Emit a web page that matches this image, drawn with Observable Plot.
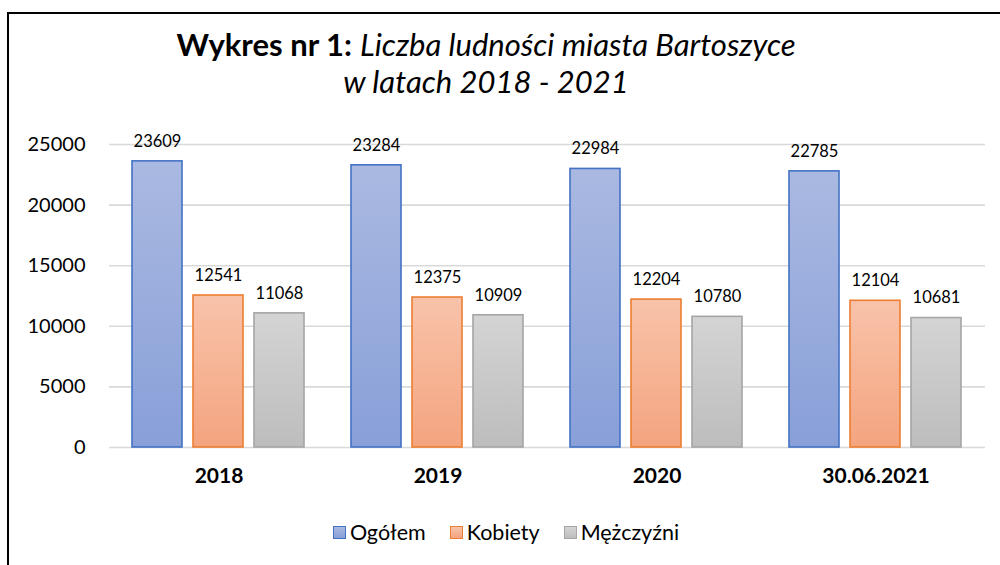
<!DOCTYPE html>
<html>
<head>
<meta charset="utf-8">
<script src="https://cdn.jsdelivr.net/npm/d3@7"></script>
<script src="https://cdn.jsdelivr.net/npm/@observablehq/plot@0.6"></script>
<style>
  html, body { margin: 0; padding: 0; background: #fff; }
  #wrap { position: relative; width: 1000px; height: 565px; overflow: hidden; font-family: Lato, "Open Sans", sans-serif; color: #000; }
  #frame { position: absolute; left: 7px; top: 12px; right: -10px; bottom: -10px; border-left: 2.5px solid #000; border-top: 2.5px solid #000; }
  #title { position: absolute; left: 0; top: 26px; width: 972px; text-align: center; font-size: 31px; line-height: 37px; }
  #title b { font-weight: bold; }
  #title i { font-style: italic; }
  #chart { position: absolute; left: 0; top: 120px; }
  #legend { position: absolute; left: 0; top: 519px; width: 1000px; display: flex; justify-content: center; gap: 24px; font-size: 21.5px; padding-left: 12px; box-sizing: border-box; }
  .item { display: flex; align-items: center; gap: 4px; }
  .sw { width: 11px; height: 11px; border-width: 1.5px; border-style: solid; display: inline-block; }
  svg [aria-label="fx-axis tick label"] text { font-weight: bold; }
</style>
</head>
<body>
<div id="wrap">
  <div id="frame"></div>
  <div id="title"><b>Wykres nr 1:</b> <i>Liczba ludności miasta Bartoszyce</i><br><i>w latach 2018 - 2021</i></div>
  <div id="chart"></div>
  <div id="legend"></div>
</div>
<script>
const categories = ["2018", "2019", "2020", "30.06.2021"];
const series = ["Ogółem", "Kobiety", "Mężczyźni"];
const ogolem = [23609, 23284, 22984, 22785];
const kobiety = [12541, 12375, 12204, 12104];
const mezczyzni = [11068, 10909, 10780, 10681];
const yTicks = [0, 5000, 10000, 15000, 20000, 25000];

const valuesBySeries = [ogolem, kobiety, mezczyzni];
const strokes = ["#4472c4", "#ed7d31", "#a5a5a5"];
const gradTop = ["#aab9e1", "#f8c3aa", "#d4d4d4"];
const gradBottom = ["#889fd8", "#f4a47f", "#bdbdbd"];
const gradIds = ["gO", "gK", "gM"];

const data = [];
series.forEach((s, si) => categories.forEach((c, ci) => data.push({cat: c, series: s, value: valuesBySeries[si][ci], si})));

const marks = [
  Plot.gridY(yTicks, {stroke: "#d9d9d9", strokeOpacity: 1, strokeWidth: 1.6}),
  Plot.axisY(yTicks, {tickSize: 0, tickPadding: 24, fontSize: 20, tickFormat: d => String(d)}),
  Plot.axisFx({anchor: "bottom", tickSize: 0, tickPadding: 21, fontSize: 21}),
  Plot.axisX({ticks: []})
];
series.forEach((s, si) => {
  const sub = data.filter(d => d.si === si);
  marks.push(Plot.barY(sub, {fx: "cat", x: "series", y: "value", fill: `url(#${gradIds[si]})`, stroke: strokes[si], strokeWidth: 1.6}));
  marks.push(Plot.text(sub, {fx: "cat", x: "series", y: "value", text: d => String(d.value), dy: -20, fontSize: 16.5, fill: "#000"}));
});

const svg = Plot.plot({
  width: 1000,
  height: 380,
  marginLeft: 109,
  marginRight: 15,
  marginTop: 24,
  marginBottom: 53,
  style: {fontFamily: "Lato, 'Open Sans', sans-serif", color: "#000", background: "transparent", overflow: "visible"},
  fx: {domain: categories, padding: 0, label: null},
  x: {domain: series, paddingInner: 0.18, paddingOuter: 0.385, axis: null, label: null},
  y: {domain: [0, 25000], label: null, axis: null},
  marks
});

const defs = d3.select(svg).insert("defs", ":first-child");
gradIds.forEach((id, i) => {
  const g = defs.append("linearGradient").attr("id", id).attr("x1", 0).attr("y1", 0).attr("x2", 0).attr("y2", 1);
  g.append("stop").attr("offset", "0%").attr("stop-color", gradTop[i]);
  g.append("stop").attr("offset", "100%").attr("stop-color", gradBottom[i]);
});
d3.select(svg).selectAll('[aria-label="fx-axis tick label"] text').attr("font-weight", "bold");
document.getElementById("chart").appendChild(svg);

const legend = d3.select("#legend");
series.forEach((s, i) => {
  const it = legend.append("div").attr("class", "item");
  it.append("span").attr("class", "sw")
    .style("border-color", strokes[i])
    .style("background", `linear-gradient(${gradTop[i]}, ${gradBottom[i]})`);
  it.append("span").text(s);
});
</script>
</body>
</html>
